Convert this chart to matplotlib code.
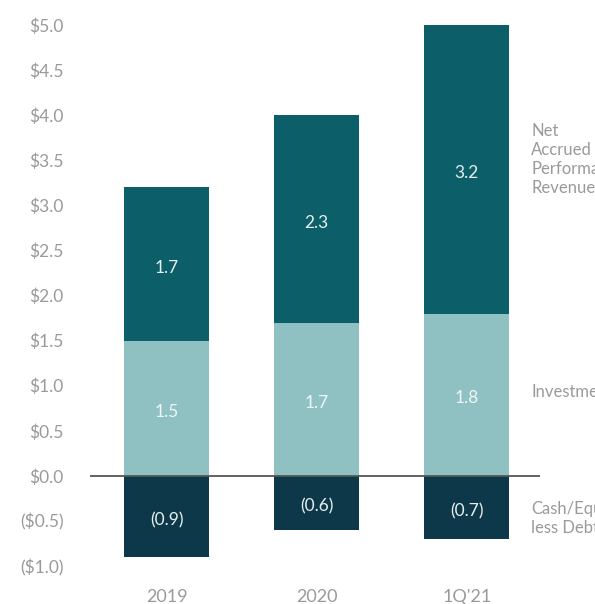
import matplotlib
matplotlib.use("Agg")
import matplotlib.pyplot as plt
import numpy as np

# chart values ($ billions)
periods = ["2019", "2020", "1Q'21"]
cash_less_debt = [-0.9, -0.6, -0.7]
investments = [1.5, 1.7, 1.8]
net_accrued = [1.7, 2.3, 3.2]
y_ticks = [-1.0, -0.5, 0.0, 0.5, 1.0, 1.5, 2.0, 2.5, 3.0, 3.5, 4.0, 4.5, 5.0]
series_names = ["Net\nAccrued\nPerformance\nRevenue", "Investments", "Cash/Equivalents\nless Debt"]

DARK_TEAL = "#0c5f68"
LIGHT_TEAL = "#8fc0c2"
NAVY = "#0d3849"
GREY = "#9a9a9a"

plt.rcParams['font.family'] = ['Lato', 'DejaVu Sans']


def fmt_dollar(v):
    if v < 0:
        return f"(${abs(v):.1f})"
    return f"${v:.1f}"


def fmt_value(v):
    if v < 0:
        return f"({abs(v):.1f})"
    return f"{v:.1f}"


def main():
    fig = plt.figure(figsize=(5.95, 6.04), dpi=100)
    ax = fig.add_axes([0.151, 0.0406, 0.756, 0.940])

    x = np.arange(len(periods))
    width = 0.567

    ax.bar(x, cash_less_debt, width, color=NAVY)
    ax.bar(x, investments, width, color=LIGHT_TEAL)
    ax.bar(x, net_accrued, width, bottom=investments, color=DARK_TEAL)

    ax.axhline(0, color="#555555", lw=1.3)

    # value labels inside segments
    for i in range(len(periods)):
        ax.text(x[i], cash_less_debt[i] / 2 - 0.04, fmt_value(cash_less_debt[i]),
                ha="center", va="center", color="#e6eeee", fontsize=12.5)
        ax.text(x[i], investments[i] / 2 - 0.04, fmt_value(investments[i]),
                ha="center", va="center", color="#f0f6f6", fontsize=12.5)
        ax.text(x[i], investments[i] + net_accrued[i] / 2 - 0.04, fmt_value(net_accrued[i]),
                ha="center", va="center", color="#e6eeee", fontsize=12.5)

    # series labels on the right, running off the edge like the source
    label_y = [3.51, 0.93, -0.47]
    for name, yy in zip(series_names, label_y):
        ax.text(2.43, yy, name, ha="left", va="center", color=GREY,
                fontsize=12, linespacing=1.25)

    ax.set_xlim(-0.513, 2.487)
    ax.set_ylim(-1.15, 5.15)
    ax.set_yticks(y_ticks)
    ax.set_yticklabels([fmt_dollar(v) for v in y_ticks])
    ax.set_xticks(x)
    ax.set_xticklabels(periods)
    ax.tick_params(axis="y", length=0, pad=19, labelsize=12.5, labelcolor=GREY)
    ax.tick_params(axis="x", length=0, pad=7, labelsize=13, labelcolor=GREY)

    for s in ax.spines.values():
        s.set_visible(False)

    fig.savefig("out.png", dpi=100)


if __name__ == "__main__":
    main()
